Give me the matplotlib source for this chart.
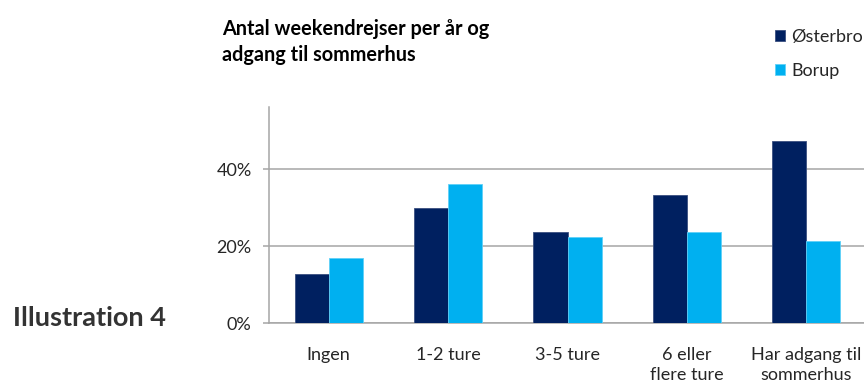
import matplotlib
matplotlib.use("Agg")
import matplotlib.pyplot as plt
import numpy as np

# Data: share of respondents (%) per category
categories = ["Ingen", "1-2 ture", "3-5 ture", "6 eller\nflere ture", "Har adgang til\nsommerhus"]
osterbro = [12.7, 29.9, 23.6, 33.2, 47.2]
borup = [17.0, 36.1, 22.5, 23.6, 21.4]
yticks = [0, 20, 40]
ytick_labels = ["0%", "20%", "40%"]

navy = "#002060"
cyan = "#00B0F0"
grid_col = "#a6a6a6"
txt_col = "#262626"

plt.rcParams["font.family"] = ["Lato", "DejaVu Sans"]

W, H = 864, 383
fig = plt.figure(figsize=(W / 100, H / 100), dpi=100)

# plot area in pixel units (runs past the right edge)
left, right, top, bottom = 269, 866, 107.3, 323.3
ax = fig.add_axes([left / W, 1 - bottom / H, (right - left) / W, (bottom - top) / H])

x = np.arange(len(categories))
w = 0.285
ax.bar(x - w / 2, osterbro, width=w, color=navy, edgecolor="#3a4f80", linewidth=0.6, zorder=3, label="Østerbro")
ax.bar(x + w / 2, borup, width=w, color=cyan, edgecolor="#5fd0f7", linewidth=0.6, zorder=3, label="Borup")

ax.set_xlim(-0.5, len(categories) - 0.5)
ax.set_ylim(0, 56)

ax.set_yticks(yticks)
ax.set_yticklabels(ytick_labels)
ax.yaxis.grid(True, color=grid_col, linewidth=1.1, zorder=0)
ax.set_xticks(x)
ax.set_xticklabels(categories, linespacing=1.3)

for s in ["top", "right"]:
    ax.spines[s].set_visible(False)
for s in ["left", "bottom"]:
    ax.spines[s].set_color(grid_col)
    ax.spines[s].set_linewidth(1.1)

ax.tick_params(axis="y", length=4.5, width=1.1, color=grid_col, pad=8, labelsize=13, labelcolor=txt_col)
ax.tick_params(axis="x", length=0, pad=17, labelsize=13, labelcolor=txt_col)

# chart title
fig.text(222 / W, 1 - 19 / H, "Antal weekendrejser per år og\nadgang til sommerhus",
         fontsize=14.3, fontweight="bold", color="black", va="top", ha="left", linespacing=1.38)

# legend
fig.legend(loc="upper left", bbox_to_anchor=(775 / W, 1 - 29 / H), frameon=False,
           fontsize=13, handlelength=0.58, handleheight=0.58, handletextpad=0.32,
           labelspacing=1.0, borderpad=0, borderaxespad=0, labelcolor=txt_col)

fig.text(13 / W, 1 - 318 / H, "Illustration 4", fontsize=19.5, fontweight="bold",
         color="#333333", va="center", ha="left")

fig.savefig("out.png", dpi=100)
